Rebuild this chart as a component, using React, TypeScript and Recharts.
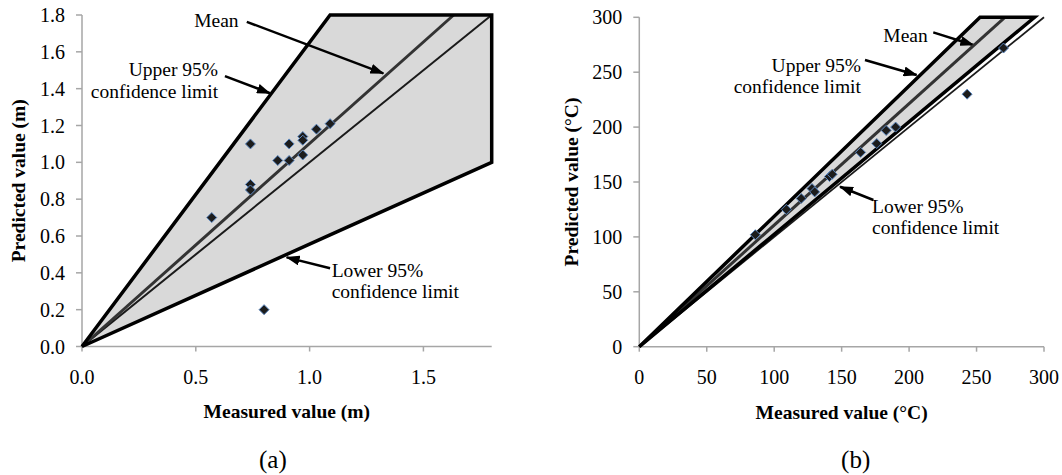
import {
  ComposedChart,
  Area,
  Scatter,
  XAxis,
  YAxis,
  ReferenceLine,
  ReferenceDot,
  Label,
} from "recharts";

const FONT = '"Liberation Serif", "Times New Roman", Times, serif';

// ---- panel (a): metres ----
const measuredA = [0.57, 0.74, 0.74, 0.74, 0.86, 0.91, 0.91, 0.97, 0.97, 0.97, 1.03, 1.09, 0.8];
const predictedA = [0.7, 1.1, 0.88, 0.85, 1.01, 1.1, 1.01, 1.14, 1.12, 1.04, 1.18, 1.21, 0.2];
const bandXA = [0, 1.09, 1.8];
const upperA = [0, 1.8, 1.8];
const lowerA = [0, 0.606, 1.0];
const meanXA = [0, 1.633];
const meanYA = [0, 1.8];
const unityA = [0, 1.8];
const ticksXA = [0, 0.5, 1, 1.5];
const ticksYA = [0, 0.2, 0.4, 0.6, 0.8, 1, 1.2, 1.4, 1.6, 1.8];

// ---- panel (b): degrees C ----
const measuredB = [86, 109, 120, 128, 130, 141, 143, 164, 176, 183, 190, 243, 270];
const predictedB = [102, 125, 135, 144, 141, 155, 157, 177, 185, 197, 200, 230, 272];
const bandXB = [0, 252.6, 293];
const upperB = [0, 300, 300];
const lowerB = [0, 258.7, 300];
const meanXB = [0, 271];
const meanYB = [0, 300];
const unityB = [0, 300];
const ticksXB = [0, 50, 100, 150, 200, 250, 300];
const ticksYB = [0, 50, 100, 150, 200, 250, 300];

// annotation text (data coords, first-line baseline) and arrows
const notesA = [
  { x: 0.493, y: 1.733, lines: ["Mean"], anchor: "start" },
  { x: 0.598, y: 1.468, lines: ["Upper 95%", "confidence limit"], anchor: "end" },
  { x: 1.097, y: 0.379, lines: ["Lower 95%", "confidence limit"], anchor: "start" },
];
const arrowsA = [
  [{ x: 0.724, y: 1.763 }, { x: 1.324, y: 1.483 }],
  [{ x: 0.628, y: 1.468 }, { x: 0.826, y: 1.375 }],
  [{ x: 1.09, y: 0.425 }, { x: 0.899, y: 0.484 }],
];
const notesB = [
  { x: 180.9, y: 277.8, lines: ["Mean"], anchor: "start" },
  { x: 164.3, y: 250.5, lines: ["Upper 95%", "confidence limit"], anchor: "end" },
  { x: 172.5, y: 121.8, lines: ["Lower 95%", "confidence limit"], anchor: "start" },
];
const arrowsB = [
  [{ x: 217.9, y: 286.3 }, { x: 247.6, y: 274.8 }],
  [{ x: 167.3, y: 261.1 }, { x: 205.6, y: 247.5 }],
  [{ x: 173.5, y: 133.6 }, { x: 148.8, y: 145.7 }],
];

const AXIS_GREY = "#a6a6a6";

function Diamond(props: any) {
  const { cx, cy } = props;
  if (cx == null || cy == null) return <g />;
  const r = 5;
  return (
    <path
      d={`M${cx},${cy - r}L${cx + r},${cy}L${cx},${cy + r}L${cx - r},${cy}Z`}
      fill="#1c1c1c"
      stroke="#5b87c0"
      strokeWidth={1}
    />
  );
}

function NoteText({ cx, cy, lines, anchor }: any) {
  return (
    <text
      x={cx}
      y={cy}
      textAnchor={anchor}
      fontFamily={FONT}
      fontSize={19.5}
      fill="#000"
    >
      {lines.map((l: string, i: number) => (
        <tspan key={i} x={cx} dy={i === 0 ? 0 : 21.5}>
          {l}
        </tspan>
      ))}
    </text>
  );
}

function Panel(p: any) {
  const band = p.bandX.map((x: number, i: number) => ({
    x,
    band: [p.lower[i], p.upper[i]],
  }));
  const outline = [
    ...p.bandX.map((x: number, i: number) => ({ x, y: p.upper[i] })),
    ...p.bandX.map((x: number, i: number) => ({ x, y: p.lower[i] })).reverse(),
  ];
  const points = p.measured.map((x: number, i: number) => ({ x, y: p.predicted[i] }));
  const mean = p.meanX.map((x: number, i: number) => ({ x, y: p.meanY[i] }));
  const unity = p.unity.map((v: number) => ({ x: v, y: v }));
  const tickStyle = { fill: "#000", fontSize: 20, fontFamily: FONT };
  const titleProps = { fontSize: 19.5, fontWeight: "bold", fontFamily: FONT, fill: "#000" };
  const markerId = `arrow-${p.id}`;

  return (
    <ComposedChart
      width={p.width}
      height={475}
      data={band}
      margin={{ top: p.top, right: p.right, bottom: 0, left: 0 }}
    >
      <defs>
        <marker
          id={markerId}
          viewBox="0 0 14 10"
          refX={13}
          refY={5}
          markerWidth={14}
          markerHeight={10}
          markerUnits="userSpaceOnUse"
          orient="auto"
        >
          <path d="M0,0 L14,5 L0,10 Z" fill="#000" />
        </marker>
      </defs>
      <XAxis
        type="number"
        dataKey="x"
        domain={[0, p.xMax]}
        ticks={p.ticksX}
        tickFormatter={p.fmt}
        stroke={AXIS_GREY}
        strokeWidth={1.5}
        tickSize={5}
        tickMargin={18}
        tick={tickStyle}
        height={475 - p.bottomY}
      >
        <Label value={p.xTitle} position="insideTop" offset={58} {...titleProps} />
        <Label
          value={p.caption}
          position="insideTop"
          offset={104}
          dx={p.captionDx}
          fontSize={25}
          fontFamily={FONT}
          fill="#000"
        />
      </XAxis>
      <YAxis
        type="number"
        domain={[0, p.yMax]}
        ticks={p.ticksY}
        tickFormatter={p.fmt}
        stroke={AXIS_GREY}
        strokeWidth={1.5}
        tickSize={6}
        tickMargin={11}
        tick={tickStyle}
        width={p.axisW}
      >
        <Label
          value={p.yTitle}
          angle={-90}
          position="insideLeft"
          offset={p.yTitleX}
          style={{ textAnchor: "middle" }}
          {...titleProps}
        />
      </YAxis>
      <Area
        type="linear"
        dataKey="band"
        stroke="none"
        fill="#d9d9d9"
        fillOpacity={1}
        isAnimationActive={false}
      />
      <Scatter
        data={unity}
        dataKey="y"
        line={{ stroke: "#1a1a1a", strokeWidth: p.unityW }}
        shape={() => <g />}
        isAnimationActive={false}
      />
      <Scatter
        data={mean}
        dataKey="y"
        line={{ stroke: "#333", strokeWidth: 3 }}
        shape={() => <g />}
        isAnimationActive={false}
      />
      <Scatter
        data={outline}
        dataKey="y"
        line={{ stroke: "#000", strokeWidth: 3.5 }}
        shape={() => <g />}
        isAnimationActive={false}
      />
      <Scatter data={points} dataKey="y" shape={<Diamond />} isAnimationActive={false} />
      {p.arrows.map((seg: any, i: number) => (
        <ReferenceLine
          key={`a${i}`}
          segment={seg}
          stroke="#000"
          strokeWidth={2.5}
          markerEnd={`url(#${markerId})`}
          ifOverflow="visible"
        />
      ))}
      {p.notes.map((n: any, i: number) => (
        <ReferenceDot
          key={`n${i}`}
          x={n.x}
          y={n.y}
          r={0}
          ifOverflow="visible"
          shape={(sp: any) => (
            <NoteText cx={sp.cx} cy={sp.cy} lines={n.lines} anchor={n.anchor} />
          )}
        />
      ))}
    </ComposedChart>
  );
}

export default function App() {
  return (
    <div
      style={{
        position: "absolute",
        left: 0,
        top: 0,
        width: 1062,
        height: 475,
        background: "#fff",
      }}
    >
      <div style={{ position: "absolute", left: 0, top: 0 }}>
        <Panel
          id="a"
          width={520}
          top={15}
          right={28.3}
          bottomY={346.5}
          axisW={82}
          yTitleX={18.3}
          measured={measuredA}
          predicted={predictedA}
          bandX={bandXA}
          upper={upperA}
          lower={lowerA}
          meanX={meanXA}
          meanY={meanYA}
          unity={unityA}
          unityW={2}
          xMax={1.8}
          yMax={1.8}
          ticksX={ticksXA}
          ticksY={ticksYA}
          fmt={(v: number) => v.toFixed(1)}
          xTitle="Measured value (m)"
          yTitle="Predicted value (m)"
          caption="(a)"
          captionDx={-14}
          notes={notesA}
          arrows={arrowsA}
        />
      </div>
      <div style={{ position: "absolute", left: 520, top: 0 }}>
        <Panel
          id="b"
          width={542}
          top={17.3}
          right={18}
          bottomY={346.7}
          axisW={119.3}
          yTitleX={51.5}
          measured={measuredB}
          predicted={predictedB}
          bandX={bandXB}
          upper={upperB}
          lower={lowerB}
          meanX={meanXB}
          meanY={meanYB}
          unity={unityB}
          unityW={1.8}
          xMax={300}
          yMax={300}
          ticksX={ticksXB}
          ticksY={ticksYB}
          fmt={(v: number) => String(v)}
          xTitle="Measured value (°C)"
          yTitle="Predicted value (°C)"
          caption="(b)"
          captionDx={14}
          notes={notesB}
          arrows={arrowsB}
        />
      </div>
    </div>
  );
}
